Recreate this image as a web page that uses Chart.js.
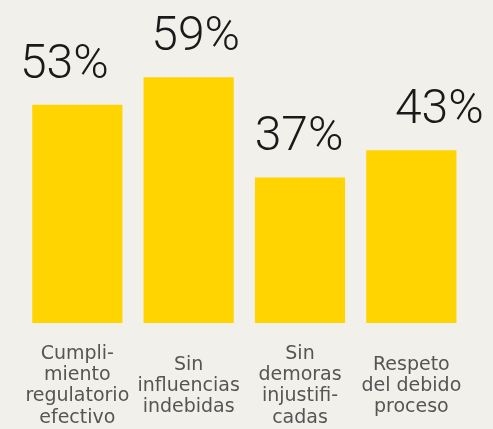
<!DOCTYPE html>
<html>
<head>
<meta charset="utf-8">
<script src="https://cdn.jsdelivr.net/npm/chart.js@4"></script>
<style>
html,body{margin:0;padding:0;background:#f2f0eb;}
#wrap{width:493px;height:429px;position:relative;}
</style>
</head>
<body>
<div id="wrap"><canvas id="c"></canvas></div>
<script>
const CATEGORIES=[
  ['Cumpli-','miento','regulatorio','efectivo'],
  ['Sin','influencias','indebidas'],
  ['Sin','demoras','injustifi-','cadas'],
  ['Respeto','del debido','proceso']
];
const VALUES=[53,59,37,43];
const VALUE_LABELS=['53%','59%','37%','43%'];

const YELLOW='#ffd400', BG='#f2f0eb';

// big percentage text above each bar
const pctLabels={
  id:'pctLabels',
  afterDatasetsDraw(chart,args,opts){
    const ctx=chart.ctx, meta=chart.getDatasetMeta(0);
    ctx.save();
    ctx.font=opts.font;ctx.fillStyle=opts.color;
    ctx.textAlign='center';ctx.textBaseline='alphabetic';
    meta.data.forEach((bar,i)=>{
      const dx=(opts.dx&&opts.dx[i])||0;
      ctx.fillText(VALUE_LABELS[i],bar.x+dx,bar.y+opts.dy);
    });
    ctx.restore();
  }
};

new Chart(document.getElementById('c'),{
  type:'bar',
  data:{labels:CATEGORIES,datasets:[{data:VALUES,backgroundColor:YELLOW,borderWidth:0,categoryPercentage:0.9,barPercentage:0.9}]},
  options:{
    responsive:true,maintainAspectRatio:false,animation:false,
    layout:{padding:{left:19,right:26,top:0,bottom:0}},
    plugins:{legend:{display:false},tooltip:{enabled:false},
      pctLabels:{font:'300 48px Roboto',color:'#1a1a1a',dy:-27,dx:[-13,7,-1,28]}},
    scales:{
      y:{display:false,min:5,max:76},
      x:{grid:{display:false},border:{display:false},
        afterFit(s){s.height=106;},
        ticks:{color:'#555',font:{family:'DejaVu Sans',size:19,lineHeight:1.12},padding:23,crossAlign:'center',maxRotation:0,autoSkip:false}}
    }
  },
  plugins:[pctLabels]
});
</script>
</body>
</html>
